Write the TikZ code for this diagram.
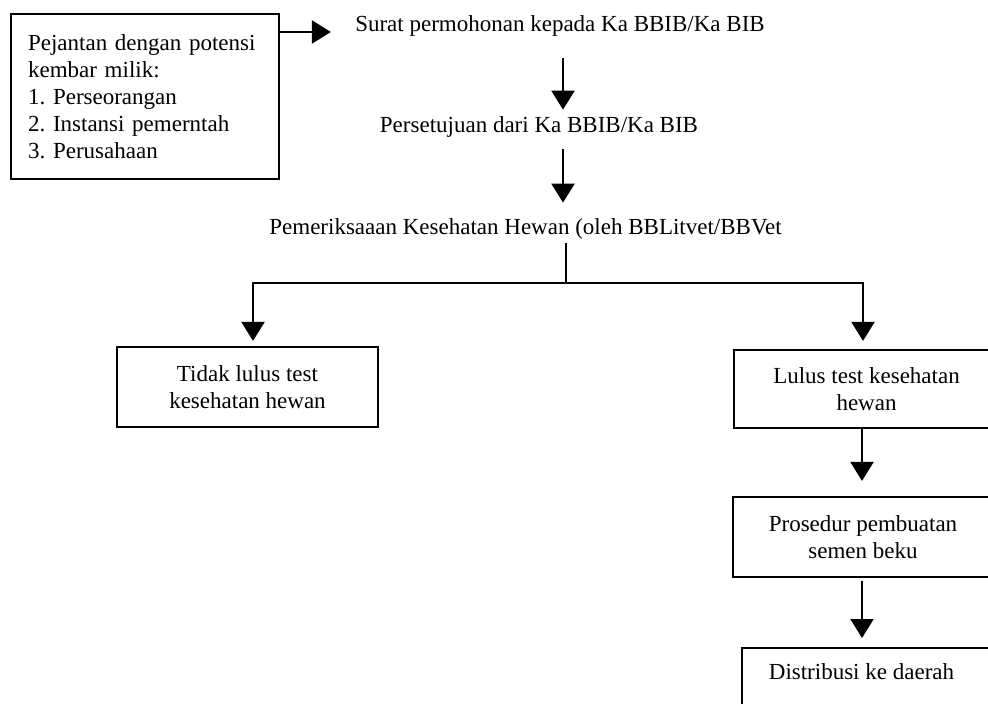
\documentclass[tikz,border=0pt]{standalone}
\usepackage{fontspec}
\setmainfont{Liberation Serif}
\usetikzlibrary{arrows.meta,calc}
\begin{document}
\frenchspacing
\begin{tikzpicture}[x=0.5pt,y=-0.5pt,
  font=\fontsize{11.5}{13.4}\selectfont,
  box/.style={draw, line width=1.1pt, inner sep=0pt, align=center},
  txt/.style={inner sep=0pt},
  conn/.style={line width=1.1pt},
  arr/.style={conn, -{Triangle[length=9.5pt,width=11.5pt]}}]
\useasboundingbox (0,0) rectangle (988,704);
\clip (0,0) rectangle (988,704);

% nodes
\node[box, anchor=north west, minimum width=134pt, minimum height=82.5pt,
      text width=117pt, align=left, inner xsep=8.5pt] (own) at (10,13)
  {Pejantan dengan potensi\\ kembar milik:\\ 1. Perseorangan\\ 2. Instansi pemerntah\\ 3. Perusahaan};

\node[txt, anchor=base] (surat) at (560,32) {Surat permohonan kepada Ka BBIB/Ka BIB};
\node[txt, anchor=base] (setuju) at (539,133) {Persetujuan dari Ka BBIB/Ka BIB};
\node[txt, anchor=base] (periksa) at (525.5,235) {Pemeriksaaan Kesehatan Hewan (oleh BBLitvet/BBVet};

\node[box, minimum width=130.5pt, minimum height=40pt] (fail) at (247.5,387)
  {Tidak lulus test\\ kesehatan hewan};
\node[box, minimum width=132.5pt, minimum height=39pt] (pass) at (866.5,389)
  {Lulus test kesehatan\\ hewan};
\node[box, minimum width=130pt, minimum height=40pt] (proc) at (863,537)
  {Prosedur pembuatan\\ semen beku};
\node[box, anchor=north west, minimum width=130pt, minimum height=40pt] (distbox) at (741,647) {};
\node[txt] (dist) at (861.5,672) {Distribusi ke daerah};

% helper coordinates
\coordinate (xa) at (563,0);
\coordinate (xb) at (566,0);
\coordinate (xr) at (862,0);
\coordinate (j) at (566,283);
\coordinate (jl) at (253,283);
\coordinate (jr) at (863,283);

% connectors
\draw[arr] (own.east |- surat.base) -- ($(surat.base west)+(-24,0)$);
\draw[arr, shorten <=10.5pt, shorten >=3.5pt] (surat.south -| xa) -- (setuju.north -| xa);
\draw[arr, shorten <=5.5pt, shorten >=8pt] (setuju.south -| xa) -- (periksa.north -| xa);
\draw[conn, shorten <=1.5pt] (periksa.south -| xb) -- (j);
\draw[arr, shorten >=2.5pt] (j) -- (jl) -- (fail.north -| jl);
\draw[arr, shorten >=4pt] (j) -- (jr) -- (pass.north -| jr);
\draw[arr, shorten >=7.5pt] (pass.south -| xr) -- (proc.north -| xr);
\draw[arr, shorten <=1.5pt, shorten >=4.5pt] (proc.south -| xr) -- (distbox.north -| xr);
\end{tikzpicture}
\end{document}
